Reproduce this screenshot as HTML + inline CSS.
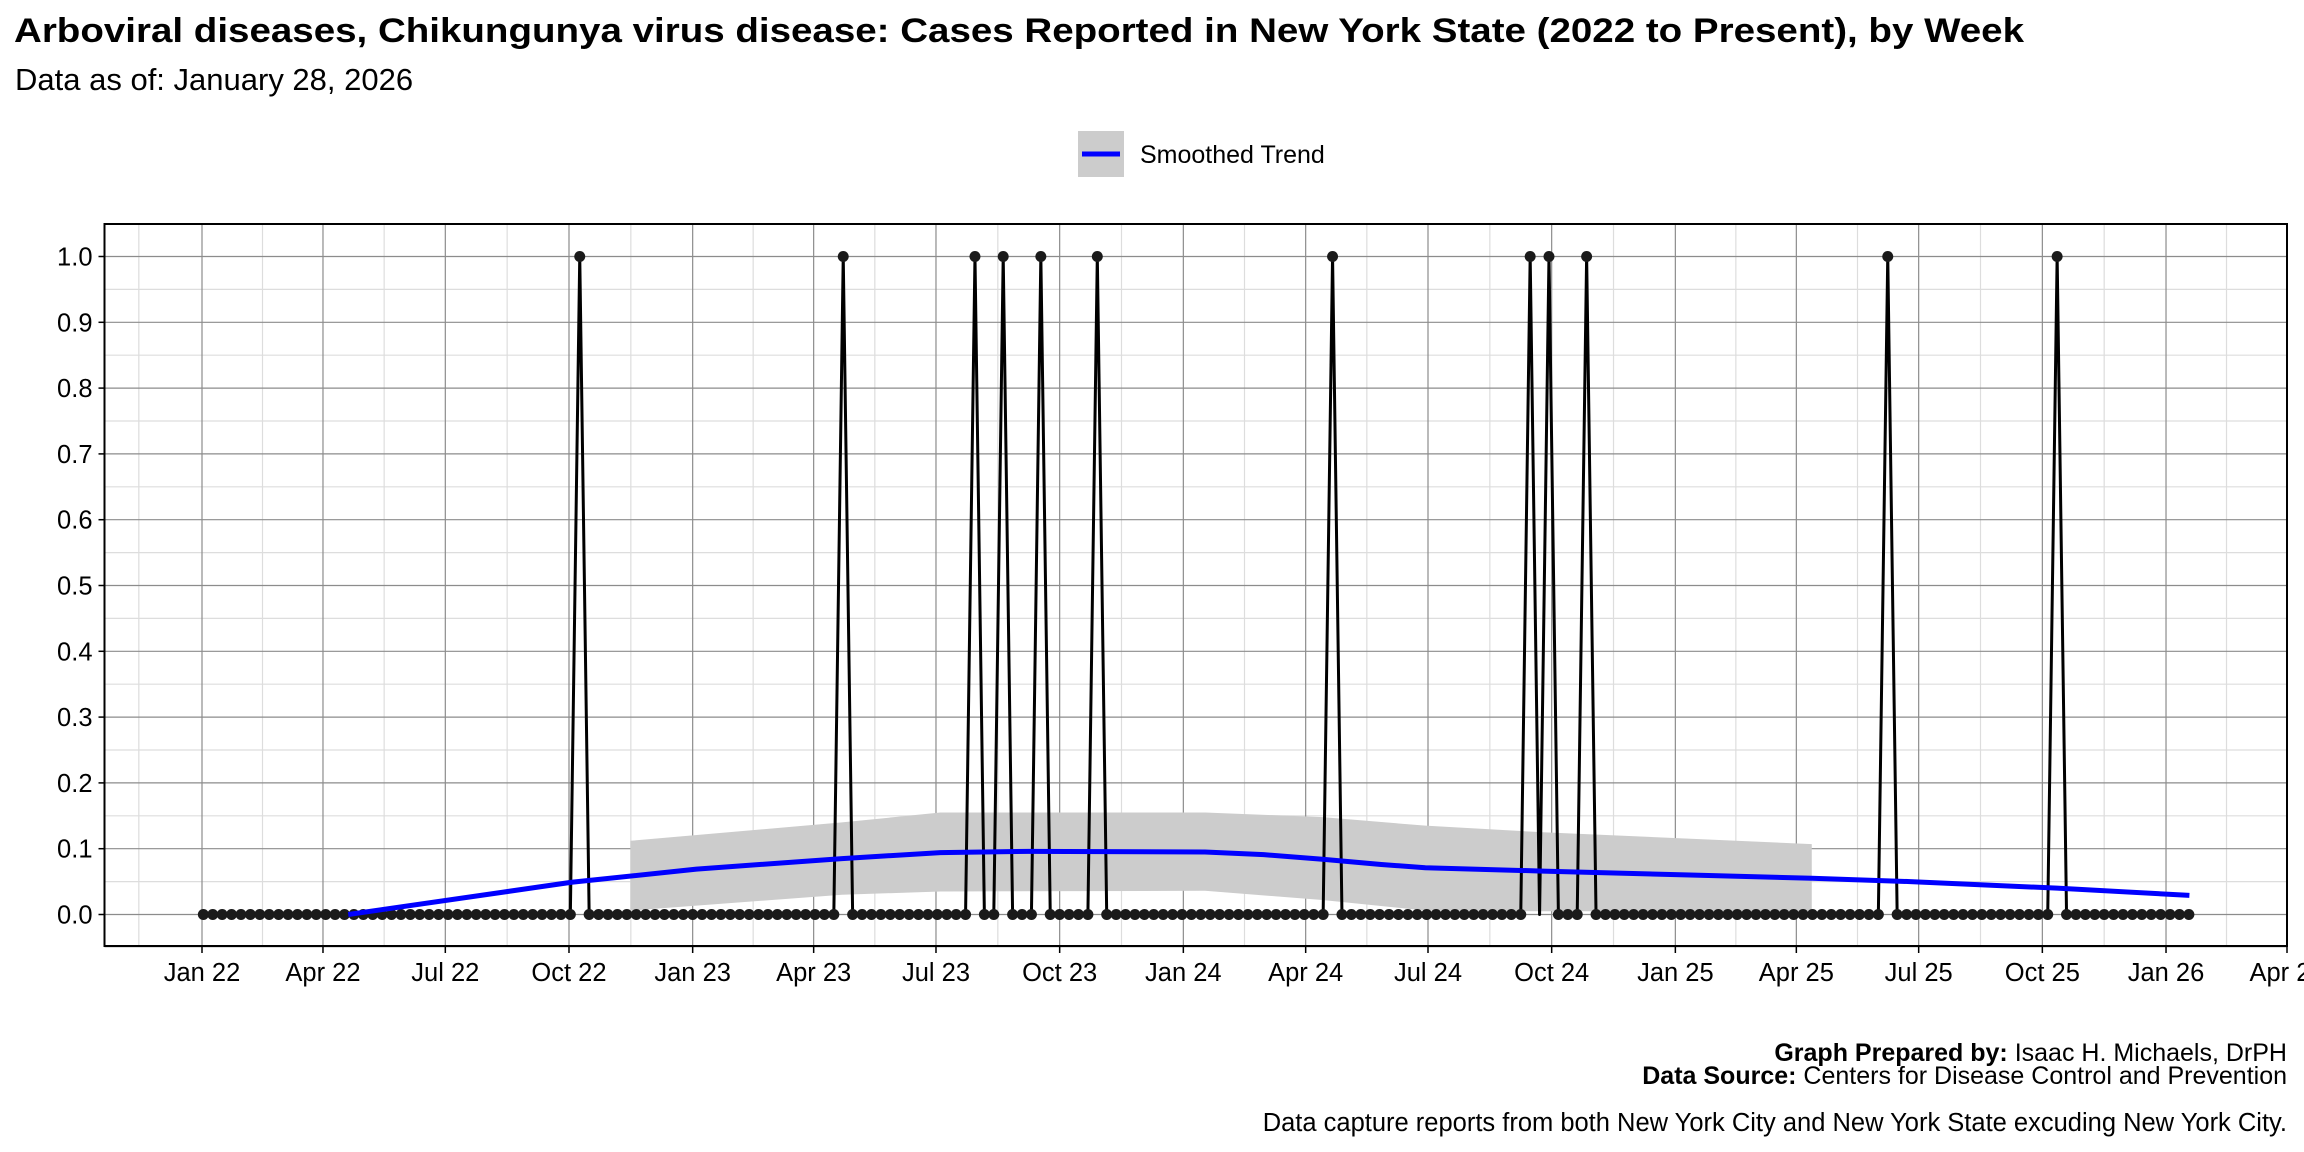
<!DOCTYPE html>
<html><head><meta charset="utf-8"><style>
html,body{margin:0;padding:0;background:#fff;}
svg{display:block;font-family:"Liberation Sans",Arial,sans-serif;}
</style></head><body>
<svg id="s" width="2304" height="1152" viewBox="0 0 2304 1152" xmlns="http://www.w3.org/2000/svg">
<text x="14" y="42" font-size="34" font-weight="bold" textLength="2010" lengthAdjust="spacingAndGlyphs">Arboviral diseases, Chikungunya virus disease: Cases Reported in New York State (2022 to Present), by Week</text>
<text x="15" y="90" font-size="31">Data as of: January 28, 2026</text>
<rect x="1078" y="131" width="46" height="46" fill="#cccccc"/>
<line x1="1082" y1="154" x2="1120" y2="154" stroke="#0000ff" stroke-width="5"/>
<text x="1140" y="163" font-size="25">Smoothed Trend</text>
<g id="plot"></g>
<text x="2287" y="1061" font-size="25" text-anchor="end"><tspan font-weight="bold">Graph Prepared by:</tspan> Isaac H. Michaels, DrPH</text>
<text x="2287" y="1084" font-size="25" text-anchor="end"><tspan font-weight="bold">Data Source:</tspan> Centers for Disease Control and Prevention</text>
<text x="2287" y="1131" font-size="25.5" text-anchor="end">Data capture reports from both New York City and New York State excuding New York City.</text>
</svg>
<script>
var L=104.5,R=2287,T=224,B=946,Y0=914.5,PY=658;
var X0=202,PD=1.3443;
function dx(d){return X0+d*PD;}
function yy(v){return Y0-v*PY;}
var g='';
for(var v=-0.05;v<1.06;v+=0.1){g+='<line x1="'+L+'" x2="'+R+'" y1="'+yy(v)+'" y2="'+yy(v)+'" stroke="#dddddd" stroke-width="1.2"/>';}
function day(y,m){return (Date.UTC(y,m,1)-Date.UTC(2022,0,1))/864e5;}
var majors=[],lab=[],mons=['Jan','Apr','Jul','Oct'];
for(var y=2022;y<=2026;y++)for(var q=0;q<4;q++){if(y==2026&&q>1)break;majors.push(day(y,q*3));lab.push(mons[q]+' '+String(y).slice(2));}
var minors=[day(2021,10)+14];
for(var i=0;i<majors.length-1;i++)minors.push((majors[i]+majors[i+1])/2);
minors.forEach(function(d){var x=dx(d);if(x>L&&x<R)g+='<line x1="'+x+'" x2="'+x+'" y1="'+T+'" y2="'+B+'" stroke="#dddddd" stroke-width="1.2"/>';});
for(var k=0;k<=10;k++){var v=k/10;g+='<line x1="'+L+'" x2="'+R+'" y1="'+yy(v)+'" y2="'+yy(v)+'" stroke="#8c8c8c" stroke-width="1.2"/>';
g+='<line x1="'+(L-6)+'" x2="'+L+'" y1="'+yy(v)+'" y2="'+yy(v)+'" stroke="#000" stroke-width="1.5"/>';
g+='<text x="'+(L-12)+'" y="'+(yy(v)+9)+'" font-size="25.5" text-anchor="end">'+v.toFixed(1)+'</text>';}
majors.forEach(function(d,i){var x=dx(d);if(x<R-1)g+='<line x1="'+x+'" x2="'+x+'" y1="'+T+'" y2="'+B+'" stroke="#8c8c8c" stroke-width="1.2"/>';
g+='<line x1="'+x+'" x2="'+x+'" y1="'+B+'" y2="'+(B+7)+'" stroke="#000" stroke-width="1.5"/>';
g+='<text x="'+x+'" y="'+(B+35)+'" font-size="25.5" text-anchor="middle">'+lab[i]+'</text>';});
function mx(m){return m*1.4694;}
var up=[[429,0.112],[573,0.14],[640,0.155],[820,0.155],[900,0.148],[970,0.135],[1050,0.125],[1233,0.107]];
var lo=[[1233,0.005],[1050,0.005],[970,0.006],[900,0.022],[820,0.036],[640,0.035],[573,0.03],[429,0.006]];
var p=up.concat(lo).map(function(a){return mx(a[0])+','+yy(a[1]);}).join(' ');
g+='<polygon points="'+p+'" fill="#cccccc"/>';
var sp={40:1,68:1,82:1,85:1,89:1,95:1,120:1,141:1,143:1,147:1,179:1,197:1};
var pts=[];for(var i=0;i<212;i++){pts.push([dx(1+7*i),yy(sp[i]?1:0)]);}
g+='<polyline points="'+pts.map(function(a){return a.join(',')}).join(' ')+'" fill="none" stroke="#000" stroke-width="3" stroke-linejoin="round"/>';
pts.forEach(function(a,i){if(i==142)return;g+='<circle cx="'+a[0]+'" cy="'+a[1]+'" r="5.5" fill="#1a1a1a"/>';});
var sm=[[237,0],[389,0.049],[474,0.069],[573,0.085],[640,0.094],[700,0.096],[820,0.095],[860,0.091],[900,0.084],[940,0.076],[970,0.071],[1050,0.066],[1150,0.06],[1233,0.055],[1300,0.05],[1400,0.04],[1490,0.029]];
g+='<polyline points="'+sm.map(function(a){return mx(a[0])+','+yy(a[1])}).join(' ')+'" fill="none" stroke="#0000ff" stroke-width="5" stroke-linejoin="round"/>';
g+='<rect x="'+L+'" y="'+T+'" width="'+(R-L)+'" height="'+(B-T)+'" fill="none" stroke="#000" stroke-width="2"/>';
document.getElementById('plot').innerHTML=g;
</script>
</body></html>
